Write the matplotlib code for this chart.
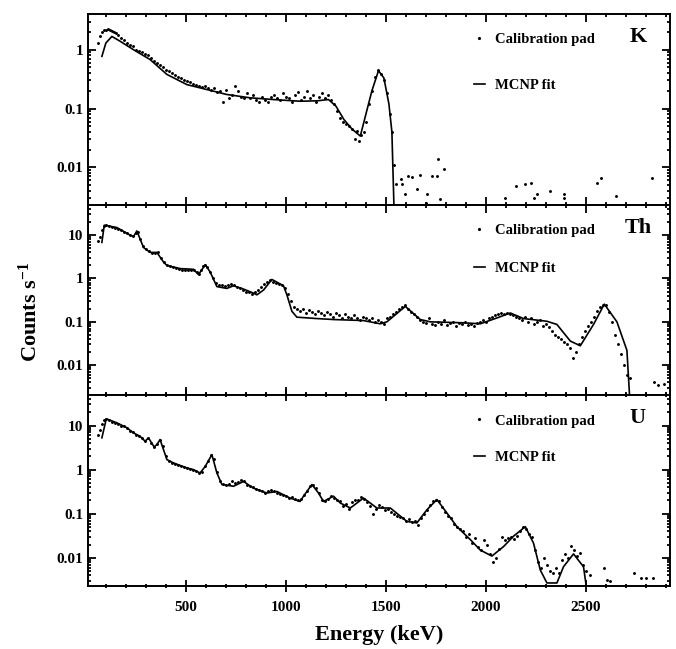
import numpy as np
import matplotlib
matplotlib.use('Agg')
import matplotlib.pyplot as plt
from matplotlib.lines import Line2D
from matplotlib.ticker import LogLocator, FixedFormatter, MultipleLocator, NullFormatter

plt.rcParams['font.family'] = ['Liberation Serif', 'DejaVu Serif']
plt.rcParams['font.weight'] = 'bold'
plt.rcParams['mathtext.fontset'] = 'custom'
plt.rcParams['mathtext.rm'] = 'Liberation Serif:bold'
plt.rcParams['mathtext.it'] = 'Liberation Serif:bold'

# ---- K : MCNP fit ----
k_fit_e = [80, 100, 130, 170, 238, 321, 405, 505, 605, 705, 821, 938, 1071, 1155, 1213,
           1250, 1290, 1330, 1372, 1400, 1430, 1463, 1490, 1515, 1530, 1543]
k_fit_y = [0.77, 1.3, 1.68, 1.4, 1.0, 0.68, 0.38, 0.255, 0.21, 0.173, 0.152, 0.142, 0.133,
           0.135, 0.142, 0.11, 0.065, 0.045, 0.034, 0.08, 0.2, 0.44, 0.33, 0.12, 0.04, 0.001]
# ---- K : calibration pad ----
k_pad_e = [60, 70, 80, 90, 100, 110, 120, 130, 140, 150, 160, 175, 190, 205, 220, 235, 250,
           265, 280, 295, 310, 325, 340, 355, 370, 385, 400, 415, 430, 445, 460, 475, 490,
           505, 520, 535, 550, 565, 580, 595, 610, 625, 640, 655, 670, 685, 700, 715, 730,
           745, 760, 775, 790, 805, 820, 835, 850, 865, 880, 895, 910, 925, 940, 955, 970,
           985, 1000, 1015, 1030, 1045, 1060, 1075, 1090, 1105, 1120, 1135, 1150, 1165,
           1180, 1195, 1210, 1225, 1240, 1255, 1270, 1285, 1300, 1315, 1330, 1345, 1355,
           1365, 1375, 1390, 1400, 1415, 1430, 1445, 1460, 1475, 1490, 1505, 1520, 1530,
           1543, 1551, 1575, 1580, 1597, 1610, 1630, 1655, 1668, 1700, 1705, 1730, 1755,
           1760, 1772, 1790, 2097, 2152, 2197, 2225, 2240, 2255, 2322, 2388, 2390, 2555,
           2575, 2652, 2830]
k_pad_y = [1.3, 1.7, 2.0, 2.15, 2.2, 2.25, 2.2, 2.1, 2.0, 1.9, 1.75, 1.6, 1.45, 1.3, 1.2,
           1.15, 1.0, 0.95, 0.9, 0.85, 0.8, 0.72, 0.65, 0.6, 0.55, 0.5, 0.46, 0.43, 0.4,
           0.37, 0.35, 0.33, 0.3, 0.29, 0.28, 0.26, 0.25, 0.24, 0.23, 0.24, 0.22, 0.21,
           0.22, 0.19, 0.2, 0.13, 0.21, 0.15, 0.17, 0.24, 0.2, 0.16, 0.15, 0.18, 0.15, 0.17,
           0.14, 0.13, 0.16, 0.14, 0.13, 0.16, 0.17, 0.15, 0.14, 0.18, 0.16, 0.15, 0.13,
           0.17, 0.19, 0.14, 0.16, 0.2, 0.15, 0.17, 0.13, 0.16, 0.18, 0.15, 0.17, 0.14,
           0.12, 0.09, 0.07, 0.06, 0.055, 0.05, 0.045, 0.03, 0.042, 0.028, 0.035, 0.04,
           0.06, 0.12, 0.2, 0.35, 0.45, 0.38, 0.3, 0.18, 0.08, 0.04, 0.011, 0.0052, 0.0063,
           0.0053, 0.0035, 0.007, 0.0068, 0.0042, 0.0073, 0.0025, 0.0035, 0.0072, 0.007,
           0.0137, 0.0029, 0.0095, 0.003, 0.0048, 0.0053, 0.0055, 0.003, 0.0035, 0.004,
           0.0035, 0.003, 0.0055, 0.0067, 0.0032, 0.0065]

# ---- Th : MCNP fit ----
th_fit_e = [80, 92, 155, 221, 238, 255, 288, 321, 355, 388, 405, 472, 538, 563, 597, 621,
            655, 705, 738, 788, 838, 855, 888, 930, 988, 1005, 1030, 1055, 1155, 1238, 1388,
            1472, 1505, 1597, 1672, 1722, 1888, 1972, 2055, 2122, 2188, 2305, 2355, 2422,
            2472, 2538, 2592, 2655, 2705, 2722]
th_fit_y = [6.8, 17, 15, 10, 9.3, 12.5, 5.2, 4.0, 4.0, 2.4, 2.0, 1.69, 1.63, 1.23, 2.08,
            1.42, 0.65, 0.59, 0.68, 0.57, 0.46, 0.42, 0.54, 0.95, 0.68, 0.42, 0.175, 0.128,
            0.119, 0.113, 0.107, 0.09, 0.1, 0.227, 0.113, 0.1, 0.095, 0.09, 0.123, 0.16,
            0.119, 0.103, 0.087, 0.036, 0.028, 0.087, 0.256, 0.1, 0.022, 0.001]
# ---- Th : calibration pad ----
th_pad_e = [60, 70, 80, 90, 100, 115, 130, 145, 160, 175, 190, 205, 220, 235, 250, 260, 270,
            285, 300, 315, 330, 345, 360, 375, 390, 405, 420, 435, 450, 465, 480, 495, 510,
            525, 540, 555, 565, 575, 585, 595, 605, 620, 635, 650, 665, 680, 695, 710, 725,
            740, 755, 770, 785, 800, 815, 830, 845, 860, 875, 890, 905, 920, 935, 950, 965,
            980, 995, 1010, 1025, 1040, 1055, 1070, 1085, 1100, 1115, 1130, 1145, 1160,
            1175, 1190, 1205, 1220, 1235, 1250, 1265, 1280, 1295, 1310, 1325, 1340, 1355,
            1370, 1385, 1400, 1415, 1430, 1445, 1460, 1475, 1490, 1505, 1520, 1535, 1550,
            1565, 1580, 1595, 1610, 1625, 1640, 1655, 1670, 1685, 1700, 1715, 1730, 1745,
            1760, 1775, 1790, 1805, 1820, 1835, 1850, 1865, 1880, 1895, 1910, 1925, 1940,
            1955, 1970, 1985, 2000, 2015, 2030, 2045, 2060, 2075, 2090, 2105, 2120, 2135,
            2150, 2165, 2180, 2195, 2210, 2225, 2240, 2255, 2270, 2285, 2300, 2315, 2330,
            2345, 2360, 2375, 2390, 2405, 2420, 2435, 2450, 2465, 2480, 2495, 2510, 2525,
            2540, 2555, 2570, 2585, 2600, 2615, 2630, 2645, 2660, 2675, 2690, 2705, 2720,
            2840, 2860, 2890]
th_pad_y = [7.5, 9, 13, 16, 17, 16, 15.5, 15, 14, 13, 12, 11, 10, 9.5, 11, 12, 8, 5.5, 4.8,
            4.2, 3.9, 3.8, 4.0, 3.0, 2.4, 2.0, 1.9, 1.8, 1.75, 1.7, 1.6, 1.6, 1.55, 1.6,
            1.55, 1.4, 1.3, 1.6, 1.9, 2.0, 1.8, 1.4, 1.0, 0.8, 0.72, 0.7, 0.68, 0.72, 0.75,
            0.7, 0.65, 0.6, 0.55, 0.5, 0.48, 0.45, 0.5, 0.55, 0.65, 0.75, 0.85, 0.9, 0.85,
            0.8, 0.75, 0.7, 0.6, 0.45, 0.3, 0.22, 0.2, 0.18, 0.2, 0.16, 0.19, 0.17, 0.15,
            0.18, 0.16, 0.14, 0.17, 0.15, 0.13, 0.16, 0.14, 0.12, 0.15, 0.13, 0.12, 0.14,
            0.12, 0.11, 0.13, 0.12, 0.11, 0.12, 0.1, 0.11, 0.1, 0.09, 0.12, 0.13, 0.15, 0.17,
            0.2, 0.22, 0.24, 0.2, 0.17, 0.15, 0.13, 0.11, 0.1, 0.095, 0.12, 0.09, 0.085, 0.1,
            0.09, 0.11, 0.085, 0.095, 0.1, 0.08, 0.095, 0.09, 0.1, 0.085, 0.09, 0.08, 0.095,
            0.1, 0.11, 0.1, 0.12, 0.13, 0.14, 0.15, 0.16, 0.15, 0.16, 0.15, 0.14, 0.13, 0.12,
            0.11, 0.13, 0.1, 0.12, 0.09, 0.1, 0.11, 0.08, 0.09, 0.075, 0.06, 0.05, 0.045,
            0.04, 0.035, 0.03, 0.025, 0.015, 0.02, 0.03, 0.045, 0.06, 0.08, 0.1, 0.13, 0.18,
            0.22, 0.25, 0.24, 0.17, 0.1, 0.05, 0.03, 0.018, 0.01, 0.006, 0.005, 0.004,
            0.0035, 0.0037]

# ---- U : MCNP fit ----
u_fit_e = [80, 102, 155, 205, 238, 271, 296, 313, 341, 355, 371, 405, 438, 505, 538, 571,
           597, 630, 655, 680, 738, 788, 838, 905, 955, 1021, 1071, 1088, 1130, 1163, 1188,
           1238, 1272, 1322, 1388, 1455, 1522, 1605, 1655, 1705, 1755, 1805, 1855, 1922,
           1972, 2030, 2088, 2138, 2197, 2238, 2272, 2305, 2355, 2388, 2438, 2488, 2513]
u_fit_y = [5.25, 14.2, 11.5, 8.9, 6.8, 5.7, 4.4, 5.25, 3.28, 3.7, 4.8, 1.69, 1.42, 1.09,
           1.0, 0.84, 1.19, 2.19, 0.84, 0.46, 0.42, 0.54, 0.38, 0.295, 0.32, 0.227, 0.19,
           0.25, 0.46, 0.295, 0.19, 0.25, 0.175, 0.135, 0.227, 0.135, 0.135, 0.067, 0.062,
           0.123, 0.21, 0.104, 0.051, 0.026, 0.015, 0.011, 0.018, 0.031, 0.051, 0.0216,
           0.0053, 0.0027, 0.0027, 0.0063, 0.0123, 0.0063, 0.001]
# ---- U : calibration pad ----
u_pad_e = [60, 70, 80, 90, 100, 115, 130, 145, 160, 175, 190, 205, 220, 235, 250, 265, 280,
           295, 310, 325, 340, 355, 370, 385, 400, 415, 430, 445, 460, 475, 490, 505, 520,
           535, 550, 565, 580, 595, 610, 625, 640, 655, 670, 685, 700, 715, 730, 745, 760,
           775, 790, 805, 820, 835, 850, 865, 880, 895, 910, 925, 940, 955, 970, 985, 1000,
           1015, 1030, 1045, 1060, 1075, 1090, 1105, 1120, 1135, 1150, 1165, 1180, 1195,
           1210, 1225, 1240, 1255, 1270, 1285, 1300, 1315, 1330, 1345, 1360, 1375, 1390,
           1405, 1420, 1435, 1450, 1465, 1480, 1495, 1510, 1525, 1540, 1555, 1570, 1585,
           1600, 1615, 1630, 1645, 1660, 1675, 1690, 1705, 1720, 1735, 1750, 1765, 1780,
           1795, 1810, 1825, 1840, 1855, 1870, 1885, 1900, 1915, 1930, 1945, 1960, 1975,
           1990, 2005, 2020, 2035, 2050, 2065, 2080, 2095, 2110, 2125, 2140, 2155, 2170,
           2185, 2200, 2215, 2230, 2245, 2260, 2275, 2290, 2305, 2320, 2335, 2350, 2365,
           2380, 2395, 2410, 2425, 2440, 2455, 2470, 2485, 2500, 2520, 2590, 2605, 2620,
           2740, 2775, 2800, 2835]
u_pad_y = [6, 8, 11, 13, 14, 13, 12, 11.5, 11, 10, 9.5, 9, 7.5, 7, 6, 5.8, 5.2, 4.5, 5.2,
           4.0, 3.3, 3.8, 4.8, 3.5, 2.0, 1.6, 1.45, 1.35, 1.25, 1.2, 1.15, 1.1, 1.05, 1.0,
           0.95, 0.85, 0.9, 1.2, 1.6, 2.1, 1.7, 0.9, 0.55, 0.48, 0.45, 0.48, 0.55, 0.5,
           0.52, 0.58, 0.55, 0.45, 0.42, 0.4, 0.36, 0.34, 0.33, 0.3, 0.32, 0.34, 0.33, 0.3,
           0.28, 0.27, 0.25, 0.23, 0.24, 0.22, 0.2, 0.22, 0.27, 0.33, 0.42, 0.45, 0.38, 0.3,
           0.2, 0.19, 0.22, 0.25, 0.23, 0.2, 0.19, 0.15, 0.17, 0.13, 0.18, 0.2, 0.21, 0.24,
           0.22, 0.18, 0.15, 0.1, 0.13, 0.16, 0.14, 0.12, 0.13, 0.11, 0.1, 0.09, 0.085,
           0.08, 0.07, 0.075, 0.065, 0.07, 0.055, 0.08, 0.1, 0.12, 0.16, 0.19, 0.2, 0.19,
           0.14, 0.11, 0.09, 0.08, 0.06, 0.05, 0.045, 0.04, 0.03, 0.035, 0.022, 0.028, 0.018,
           0.015, 0.025, 0.02, 0.012, 0.008, 0.01, 0.016, 0.03, 0.025, 0.028, 0.03, 0.027,
           0.032, 0.04, 0.05, 0.045, 0.035, 0.03, 0.015, 0.008, 0.006, 0.01, 0.007, 0.005,
           0.0045, 0.006, 0.0045, 0.009, 0.012, 0.01, 0.019, 0.015, 0.011, 0.013, 0.007,
           0.005, 0.004, 0.006, 0.0032, 0.003, 0.0045, 0.0035, 0.0035, 0.0035]

panels = [
    ('K', k_pad_e, k_pad_y, k_fit_e, k_fit_y, (0.0023, 4.0), [0.01, 0.1, 1], ['0.01', '0.1', '1'], 2.2),
    ('Th', th_pad_e, th_pad_y, th_fit_e, th_fit_y, (0.002, 50), [0.01, 0.1, 1, 10], ['0.01', '0.1', '1', '10'], 1.7),
    ('U', u_pad_e, u_pad_y, u_fit_e, u_fit_y, (0.0023, 48), [0.01, 0.1, 1, 10], ['0.01', '0.1', '1', '10'], 1.6),
]

fig, axes = plt.subplots(3, 1, figsize=(6.76, 6.49), dpi=100, sharex=True)
fig.subplots_adjust(left=0.130, right=0.991, top=0.978, bottom=0.097, hspace=0)

for ax, (name, pe, py, fe, fy, ylim, yt, ytl, lsp) in zip(axes, panels):
    ax.set_yscale('log')
    ax.plot(pe, py, linestyle='none', marker='.', markersize=2.2, color='black',
            label='Calibration pad')
    ax.plot(fe, fy, color='black', linewidth=1.2, label='MCNP fit')
    ax.set_ylim(*ylim)
    ax.set_xlim(10, 2920)
    ax.set_yticks(yt)
    ax.yaxis.set_major_formatter(FixedFormatter(ytl))
    ax.yaxis.set_minor_locator(LogLocator(base=10, subs=np.arange(2, 10), numticks=20))
    ax.yaxis.set_minor_formatter(NullFormatter())
    ax.xaxis.set_major_locator(MultipleLocator(500))
    ax.xaxis.set_minor_locator(MultipleLocator(100))
    ax.tick_params(which='both', direction='in', top=True, right=True, labelsize=11, width=1.3)
    ax.tick_params(which='major', length=6)
    ax.tick_params(which='minor', length=2.5)
    for sp in ax.spines.values():
        sp.set_linewidth(1.4)
    handles = [Line2D([], [], linestyle='none', marker='.', markersize=2.5, color='black'),
               Line2D([], [], color='black', linewidth=1.2)]
    ax.legend(handles, ['Calibration pad', 'MCNP fit'], loc='upper left',
              bbox_to_anchor=(0.64, 0.97), frameon=False, fontsize=10.5,
              handlelength=0.8, handletextpad=0.7, labelspacing=lsp)
    ax.text(0.945, 0.88, name, transform=ax.transAxes, fontsize=16, fontweight='bold',
            ha='center', va='center')

axes[2].tick_params(axis='x', which='major', direction='inout', length=9, pad=6)
axes[2].tick_params(axis='x', which='minor', direction='inout', length=3)
axes[2].set_xlabel('Energy (keV)', fontsize=16, fontweight='bold', labelpad=8)
fig.text(0.045, 0.52, r'Counts s$^{-1}$', rotation=90, fontsize=16, fontweight='bold',
         ha='center', va='center')

fig.savefig('out.png', dpi=100)
